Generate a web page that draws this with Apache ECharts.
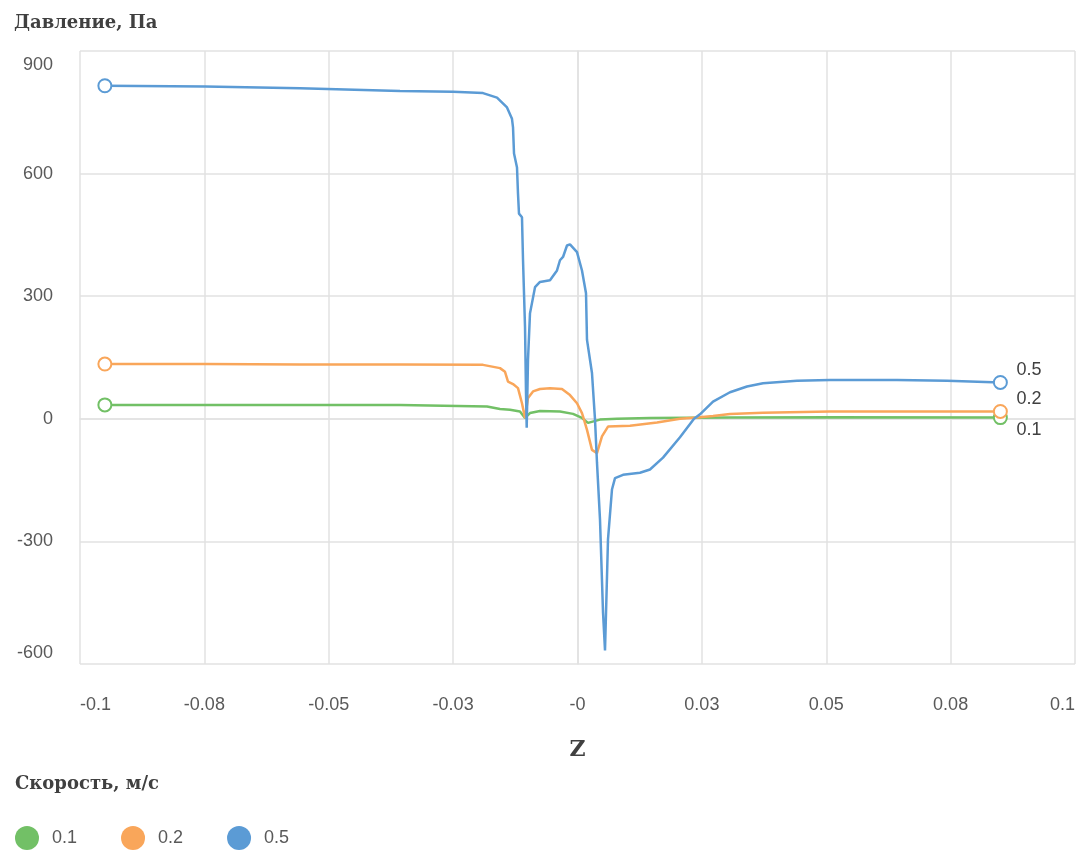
<!DOCTYPE html>
<html>
<head>
<meta charset="utf-8">
<script src="https://cdn.jsdelivr.net/npm/echarts@6/dist/echarts.min.js"></script>
<style>html,body{margin:0;padding:0;background:#fff}#c{width:1080px;height:853px}</style>
</head>
<body>
<div id="c"></div>
<script>
// ---- data ----
const seriesNames = ['0.1', '0.2', '0.5'];
const xTickLabels = ['-0.1', '-0.08', '-0.05', '-0.03', '-0', '0.03', '0.05', '0.08', '0.1'];
const yTickLabels = ['-600', '-300', '0', '300', '600', '900'];

const z01 = [-0.095, -0.07487, -0.03568, -0.01819, -0.01558, -0.01357, -0.01156, -0.01055, -0.00955, -0.00754, -0.00352, -0.00090, 0.00090, 0.00211, 0.00452, 0.00794, 0.01457, 0.03065, 0.05075, 0.085];
const p01 = [34, 34, 34, 30, 24, 22, 18, 2, 14, 19, 18, 12, 2, -10, -2, 0, 2, 3, 4, 3];

const z02 = [-0.095, -0.07487, -0.05578, -0.03568, -0.01899, -0.01558, -0.01457, -0.01397, -0.01296, -0.01196, -0.01116, -0.01055, -0.00995, -0.00894, -0.00754, -0.00553, -0.00312, -0.00151, -0.00010, 0.00090, 0.00111, 0.00191, 0.00291, 0.00392, 0.00492, 0.00613, 0.01055, 0.01598, 0.02060, 0.02402, 0.02724, 0.03065, 0.03729, 0.05075, 0.07427, 0.085];
const p02 = [134, 134, 133, 133, 132, 124, 115, 91, 85, 75, 38, 2, 51, 67, 73, 75, 73, 58, 38, 14, 6, -27, -76, -84, -43, -19, -17, -9, 0, 3, 7, 12, 15, 18, 18, 18];

const z05 = [-0.095, -0.07487, -0.05578, -0.03568, -0.02503, -0.01899, -0.01618, -0.01417, -0.01317, -0.01296, -0.01276, -0.01216, -0.01196, -0.01176, -0.01116, -0.01095, -0.01055, -0.01035, -0.01021, -0.00995, -0.00955, -0.00854, -0.00754, -0.00553, -0.00412, -0.00352, -0.00291, -0.00211, -0.00151, -0.00010, 0.00090, 0.00171, 0.00191, 0.00291, 0.00352, 0.00392, 0.00452, 0.00513, 0.00553, 0.00593, 0.00613, 0.00693, 0.00754, 0.00915, 0.01256, 0.01457, 0.01719, 0.02060, 0.02342, 0.02462, 0.02724, 0.03065, 0.03407, 0.03729, 0.04412, 0.05075, 0.06422, 0.07427, 0.085];
const p05 = [815, 813, 809, 802, 800, 797, 786, 762, 734, 713, 649, 615, 551, 502, 493, 388, 225, 63, -22, 144, 258, 322, 335, 339, 363, 388, 396, 424, 427, 408, 363, 307, 193, 112, -2, -108, -246, -474, -567, -563, -295, -173, -145, -137, -132, -124, -95, -45, 0, 11, 42, 65, 79, 87, 93, 95, 95, 93, 89];

const colors = ['#72c066', '#f9a65a', '#5b9bd5'];
const zs = [z01, z02, z05];
const ps = [p01, p02, p05];
const endOffsets = [[8, 12], [8, -12], [8, -12]];

const tickFont = 'Liberation Sans';
const titleFont = 'DejaVu Serif';

const chart = echarts.init(document.getElementById('c'));

const series = seriesNames.map((name, s) => {
  const data = zs[s].map((z, i) => [z, ps[s][i]]);
  const last = data.length - 1;
  return {
    name: name,
    type: 'line',
    data: data,
    showSymbol: true,
    showAllSymbol: true,
    symbol: (v, params) => (params.dataIndex === 0 || params.dataIndex === last) ? 'emptyCircle' : 'none',
    symbolSize: 13,
    itemStyle: { color: colors[s], borderWidth: 3 },
    lineStyle: { color: colors[s], width: 2.5 },
    endLabel: {
      show: true,
      formatter: name,
      offset: endOffsets[s],
      fontFamily: tickFont,
      fontSize: 18,
      color: '#404040'
    },
    emphasis: { disabled: true },
    z: 2 + s
  };
});

const yLast = yTickLabels.length - 1;

chart.setOption({
  animation: false,
  color: colors,
  title: [
    { text: 'Давление, Па', left: 9, top: 9, textStyle: { fontFamily: titleFont, fontWeight: 'bold', fontSize: 18, color: '#404040' } },
    { text: 'Скорость, м/с', left: 10, top: 770, textStyle: { fontFamily: titleFont, fontWeight: 'bold', fontSize: 18, color: '#404040' } }
  ],
  grid: { left: 80, right: 5, top: 51, bottom: 189, containLabel: false },
  legend: {
    left: 10,
    top: 821,
    icon: 'circle',
    itemWidth: 24,
    itemHeight: 24,
    itemGap: 44,
    textStyle: { fontFamily: tickFont, fontSize: 18, color: '#595959', padding: [0, 0, 0, 8] },
    data: seriesNames
  },
  xAxis: {
    type: 'value',
    min: -0.1,
    max: 0.1,
    interval: 0.025,
    name: 'Z',
    nameLocation: 'middle',
    nameGap: 75,
    nameTextStyle: { fontFamily: titleFont, fontWeight: 'bold', fontSize: 22, color: '#404040' },
    axisLine: { show: true, lineStyle: { color: '#e2e2e2', width: 1.5 } },
    axisTick: { show: false },
    splitLine: { show: true, lineStyle: { color: '#e2e2e2', width: 1.5 } },
    axisLabel: {
      margin: 32,
      fontFamily: tickFont,
      fontSize: 18,
      color: '#595959',
      alignMinLabel: 'left',
      alignMaxLabel: 'right',
      formatter: (v, i) => xTickLabels[i]
    }
  },
  yAxis: {
    type: 'value',
    min: -600,
    max: 900,
    interval: 300,
    axisLine: { show: true, lineStyle: { color: '#e2e2e2', width: 1.5 } },
    axisTick: { show: false },
    splitLine: { show: true, lineStyle: { color: '#e2e2e2', width: 1.5 } },
    axisLabel: {
      margin: 27,
      fontFamily: tickFont,
      fontSize: 18,
      color: '#595959',
      formatter: (v, i) => {
        const s = yTickLabels[i];
        if (i === yLast) return '{t|' + s + '}';
        if (i === 0) return '{b|' + s + '}';
        return s;
      },
      rich: {
        t: { fontFamily: tickFont, fontSize: 18, color: '#595959', padding: [28, 0, 0, 0] },
        b: { fontFamily: tickFont, fontSize: 18, color: '#595959', padding: [0, 0, 22, 0] }
      }
    }
  },
  series: series
});
</script>
</body>
</html>
